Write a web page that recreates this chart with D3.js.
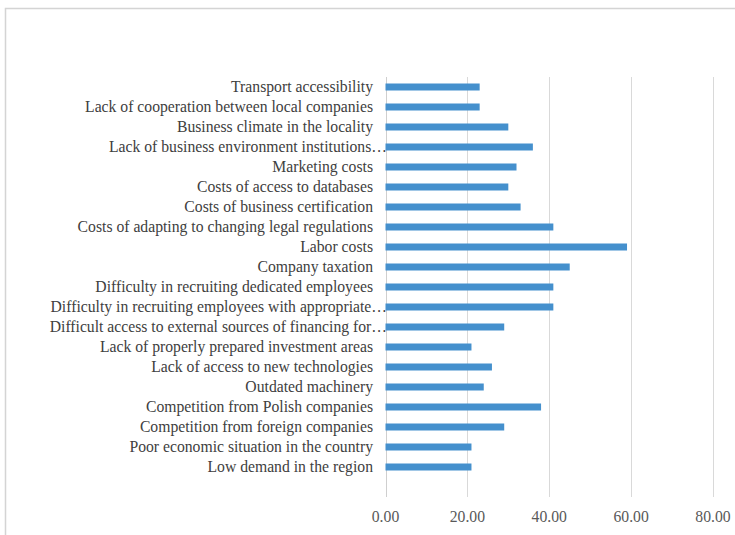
<!DOCTYPE html>
<html><head><meta charset="utf-8">
<script src="https://cdn.jsdelivr.net/npm/d3@7/dist/d3.min.js"></script>
<style>body{margin:0;background:#fff}svg{display:block}</style>
</head><body>
<script>
const categories = [
  "Transport accessibility",
  "Lack of cooperation between local companies",
  "Business climate in the locality",
  "Lack of business environment institutions…",
  "Marketing costs",
  "Costs of access to databases",
  "Costs of business certification",
  "Costs of adapting to changing legal regulations",
  "Labor costs",
  "Company taxation",
  "Difficulty in recruiting dedicated employees",
  "Difficulty in recruiting employees with appropriate…",
  "Difficult access to external sources of financing for…",
  "Lack of properly prepared investment areas",
  "Lack of access to new technologies",
  "Outdated machinery",
  "Competition from Polish companies",
  "Competition from foreign companies",
  "Poor economic situation in the country",
  "Low demand in the region"
];
const values = [23, 23, 30, 36, 32, 30, 33, 41, 59, 45, 41, 41, 29, 21, 26, 24, 38, 29, 21, 21];
const tickValues = [0, 20, 40, 60, 80];

const W = 735, H = 535;
const svg = d3.select("body").append("svg").attr("width", W).attr("height", H);

// outer frame
svg.append("path").attr("d", `M5.5,${H} V8.5 H${W}`).attr("fill","none").attr("stroke","#d4d4d4").attr("stroke-width",1.5);

const x = d3.scaleLinear().domain([0, 80]).range([385.5, 713]);
const y = d3.scaleBand().domain(categories).range([77, 477]);
const gridTop = 77, gridBottom = 497;

// gridlines
svg.append("g").selectAll("line").data(tickValues).join("line")
  .attr("x1", d => Math.round(x(d)) + 0.5).attr("x2", d => Math.round(x(d)) + 0.5)
  .attr("y1", gridTop).attr("y2", gridBottom)
  .attr("stroke", d => d === 0 ? "#cfcfcf" : "#d9d9d9").attr("stroke-width", 1);

// bars
const barH = 7;
svg.append("g").selectAll("rect").data(values).join("rect")
  .attr("x", x(0))
  .attr("y", (d, i) => y(categories[i]) + y.bandwidth() / 2 - barH / 2)
  .attr("width", d => x(d) - x(0))
  .attr("height", barH)
  .attr("fill", "#4590cd");

// category labels
svg.append("g").selectAll("text").data(categories).join("text")
  .attr("x", d => d.endsWith("…") ? 387 : 373)
  .attr("y", d => y(d) + y.bandwidth() / 2)
  .attr("dy", "0.35em")
  .attr("text-anchor", "end")
  .attr("font-family", "'Liberation Serif', 'Times New Roman', serif")
  .attr("font-size", 15.7)
  .attr("fill", "#404040")
  .text(d => d);

// x axis tick labels
const fmt = d3.format(".2f");
svg.append("g").selectAll("text").data(tickValues).join("text")
  .attr("x", d => x(d))
  .attr("y", 517)
  .attr("dy", "0.35em")
  .attr("text-anchor", "middle")
  .attr("font-family", "'Liberation Serif', 'Times New Roman', serif")
  .attr("font-size", 15.7)
  .attr("fill", "#595959")
  .text(d => fmt(d));
</script>
</body></html>
